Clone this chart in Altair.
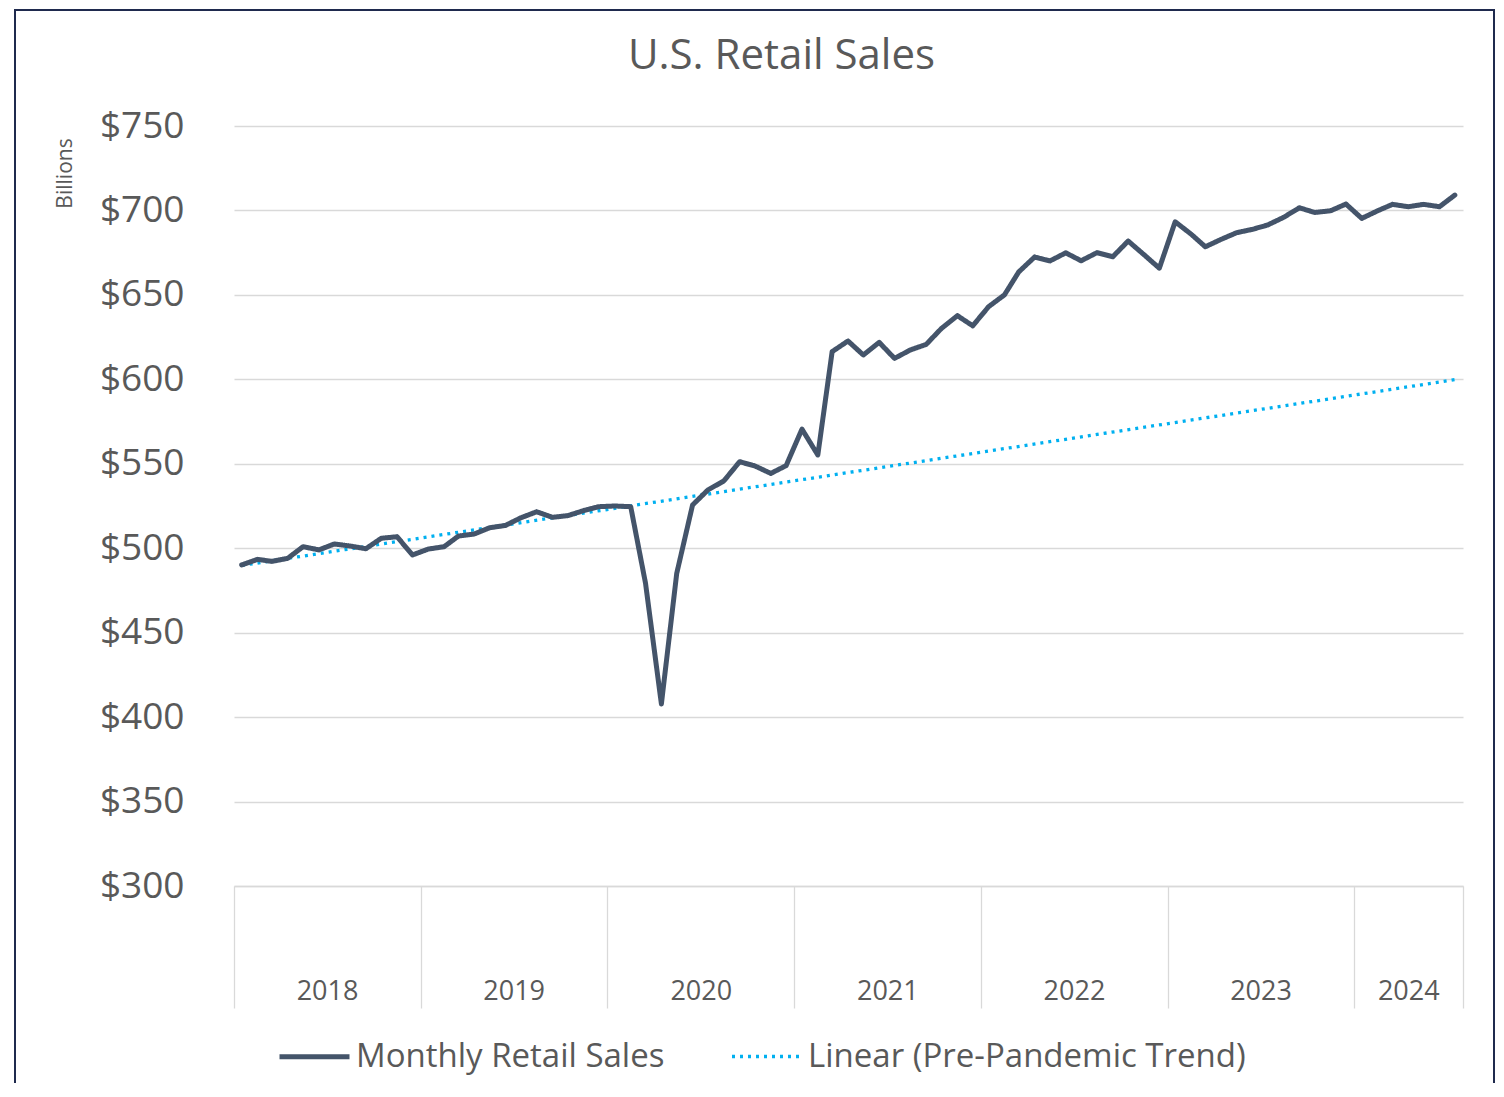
import altair as alt
import pandas as pd

# ---------------- data ----------------
sales = [
    490.1, 493.4, 492.2, 494.0, 500.9, 499.0, 502.5, 501.3, 499.7, 505.9, 506.8, 496.0,   # 2018
    499.5, 500.9, 507.2, 508.4, 512.1, 513.5, 518.0, 521.6, 518.3, 519.3, 522.3, 524.6,   # 2019
    525.0, 524.6, 479.2, 407.8, 485.1, 525.6, 534.5, 539.8, 551.2, 548.7, 544.3, 548.9,   # 2020
    570.5, 555.2, 616.4, 622.7, 614.4, 621.9, 612.4, 617.4, 620.7, 630.2, 637.7, 631.7,   # 2021
    643.0, 650.0, 663.6, 672.4, 670.1, 674.9, 670.2, 675.0, 672.6, 681.9, 673.8, 665.8,   # 2022
    693.3, 686.0, 678.5, 682.9, 686.8, 688.8, 691.4, 695.9, 701.6, 698.8, 699.8, 703.8,   # 2023
    695.3, 699.8, 703.6, 702.2, 703.6, 702.2, 709.1,                                      # 2024
]
series_names = ["Monthly Retail Sales", "Linear (Pre-Pandemic Trend)"]
trend_dates = ["2018-01-16", "2024-07-16"]
trend_values = [489.8, 599.8]
y_ticks = [300, 350, 400, 450, 500, 550, 600, 650, 700, 750]
year_bounds = [(2018, 1, 1), (2019, 1, 1), (2020, 1, 1), (2021, 1, 1), (2022, 1, 1),
               (2023, 1, 1), (2024, 1, 1), (2024, 8, 1)]
year_label_pos = [(2018, 7, 2), (2019, 7, 2), (2020, 7, 2), (2021, 7, 2), (2022, 7, 2),
                  (2023, 7, 2), (2024, 4, 16)]

months = pd.date_range("2018-01-01", periods=len(sales), freq="MS") + pd.Timedelta(days=15)
sales_df = pd.DataFrame({"date": months.strftime("%Y-%m-%d"), "value": sales,
                         "series": series_names[0]})
trend_df = pd.DataFrame({"date": trend_dates, "value": trend_values,
                         "series": series_names[1]})


def dt(t):
    return alt.DateTime(year=t[0], month=t[1], date=t[2], utc=True)


FONT = "Open Sans"
GREY = "#595959"
GRID = "#d9d9d9"

x_enc = alt.X(
    "date:T",
    title=None,
    scale=alt.Scale(domain=[dt((2018, 1, 1)), dt((2024, 8, 1))]),
    axis=alt.Axis(
        values=[dt(t) for t in year_bounds + year_label_pos],
        labelExpr="utcdate(datum.value) == 1 ? '' : utcFormat(datum.value, '%Y')",
        grid=False,
        domainColor=GRID,
        domainWidth=1.3,
        tickSize=122,
        tickWidth=1.3,
        tickColor={"condition": {"test": "utcdate(datum.value) == 1", "value": GRID},
                   "value": "transparent"},
        labelPadding=-17,
        labelBaseline="middle",
        labelFont=FONT,
        labelFontSize=27,
        labelColor=GREY,
        labelFlush=False,
        labelOverlap=False,
    ),
)

y_enc = alt.Y(
    "value:Q",
    scale=alt.Scale(domain=[300, 750], nice=False, zero=False),
    axis=alt.Axis(
        title="Billions",
        titleAngle=270,
        titleX=-169,
        titleY=47,
        titleAlign="center",
        titleBaseline="middle",
        titleFont=FONT,
        titleFontSize=21,
        titleFontWeight="normal",
        titleColor=GREY,
        values=y_ticks,
        format="$.0f",
        grid=True,
        gridColor=GRID,
        gridWidth=1.3,
        domain=False,
        ticks=False,
        tickSize=0,
        labelPadding=50,
        labelFont=FONT,
        labelFontSize=37,
        labelColor=GREY,
    ),
)

color_enc = alt.Color(
    "series:N", title=None,
    scale=alt.Scale(domain=series_names, range=["#44546A", "#00B0F0"]),
    legend=alt.Legend(orient="none", legendX=43, legendY=893, direction="horizontal"),
)
dash_enc = alt.StrokeDash(
    "series:N", title=None,
    scale=alt.Scale(domain=series_names, range=[[1, 0], [3, 5]]),
)
width_enc = alt.StrokeWidth(
    "series:N", title=None,
    scale=alt.Scale(type="ordinal", domain=series_names, range=[5, 3.3]),
)

sales_line = alt.Chart(sales_df).mark_line(strokeJoin="round", strokeCap="round").encode(
    x=x_enc, y=y_enc, color=color_enc, strokeDash=dash_enc, strokeWidth=width_enc
)
trend_line = alt.Chart(trend_df).mark_line().encode(
    x=x_enc, y=y_enc, color=color_enc, strokeDash=dash_enc, strokeWidth=width_enc
)

frame = alt.Chart(pd.DataFrame({"k": [0]})).mark_rect(
    fill="transparent", stroke="#1F2A4E", strokeWidth=2, clip=False
).encode(
    x=alt.value(-219), x2=alt.value(1260), y=alt.value(-116), y2=alt.value(1100)
)

chart = alt.layer(frame, trend_line, sales_line).properties(
    width=1229,
    height=760,
    padding={"left": 226, "top": 118, "right": 33, "bottom": 197},
    autosize=alt.AutoSizeParams(type="none"),
    background="white",
    title=alt.TitleParams(
        "U.S. Retail Sales", font=FONT, fontSize=42, fontWeight="normal", color=GREY,
        anchor="middle", dx=-67, dy=137, baseline="alphabetic", offset=35,
    ),
).configure_view(strokeWidth=0).configure_legend(
    labelFont=FONT,
    labelFontSize=33,
    labelColor=GREY,
    symbolType="stroke",
    symbolSize=4900,
    labelOffset=4,
    columnPadding=60,
    padding=0,
    labelLimit=0,
)

chart.save("out.html", embed_options={"renderer": "svg", "actions": False})
